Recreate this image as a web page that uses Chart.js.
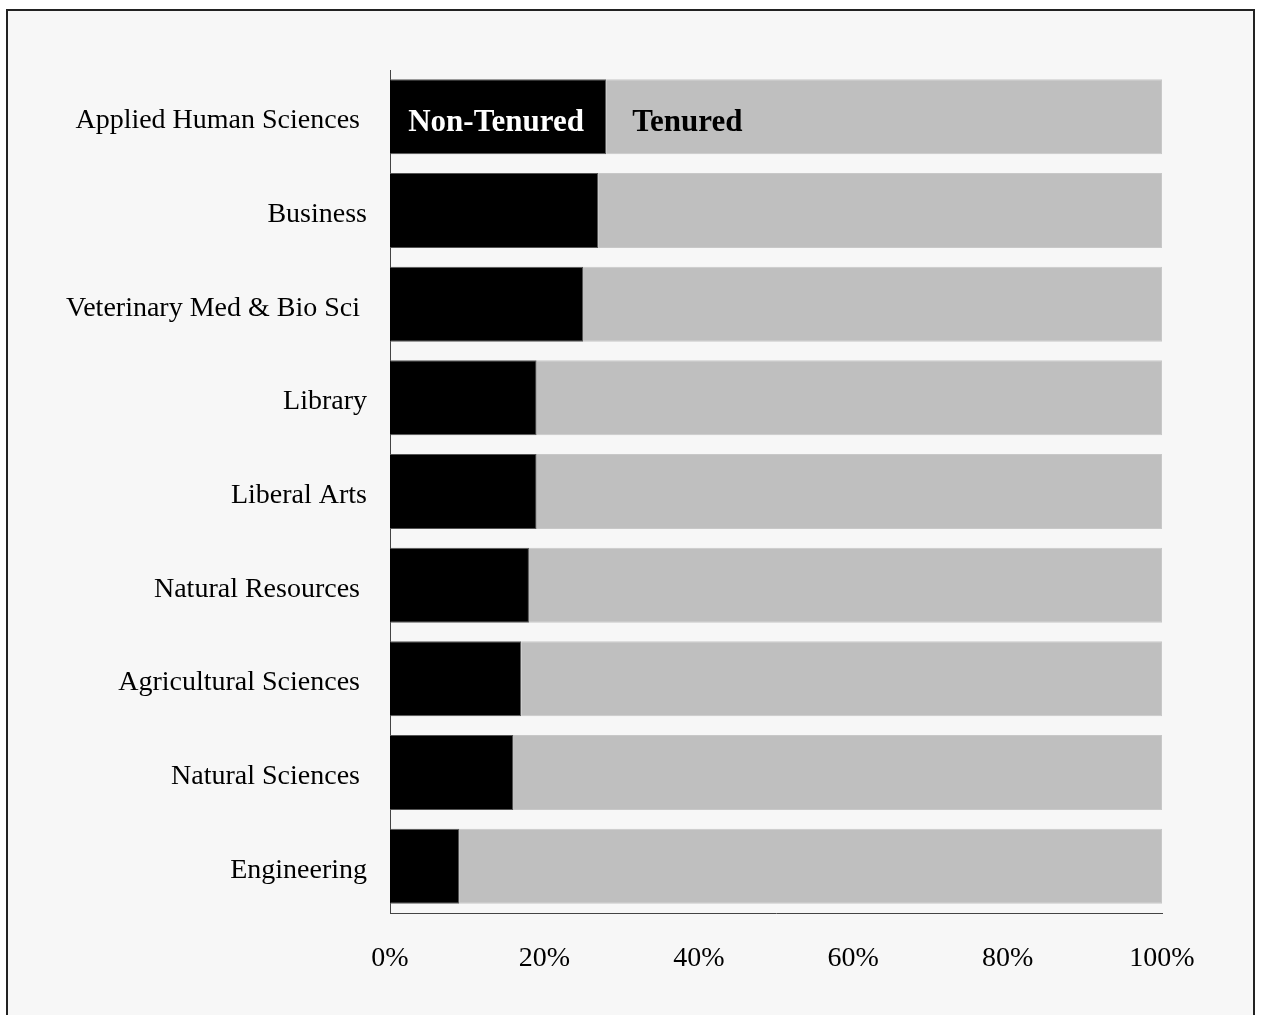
<!DOCTYPE html>
<html>
<head>
<meta charset="utf-8">
<script src="https://cdn.jsdelivr.net/npm/chart.js@4/dist/chart.umd.min.js"></script>
<style>
  html, body { margin: 0; padding: 0; background: #ffffff; }
  #frame {
    position: absolute; left: 6px; top: 9px; width: 1245px; height: 1030px;
    background: #f7f7f7; border: 2px solid #222;
  }
  #wrap { position: absolute; left: 0; top: 0; width: 1261px; height: 1015px; }
</style>
</head>
<body>
<div id="frame"></div>
<div id="wrap"><canvas id="chart_root"></canvas></div>
<script>
// Data (share of faculty, %)
const colleges = [
  'Applied Human Sciences ',
  'Business',
  'Veterinary Med & Bio Sci ',
  'Library',
  'Liberal Arts',
  'Natural Resources ',
  'Agricultural Sciences ',
  'Natural Sciences ',
  'Engineering'
];
const nonTenured = [28, 27, 25, 19, 19, 18, 17, 16, 9];
const tenured = nonTenured.map((v) => 100 - v);
const tickValues = [0, 20, 40, 60, 80, 100];

// labels written inside the first bar
const barLabels = {
  id: 'barLabels',
  afterDatasetsDraw(chart) {
    const ctx = chart.ctx;
    const black = chart.getDatasetMeta(0).data[0];
    ctx.save();
    ctx.font = 'bold 31px "Liberation Serif", "Times New Roman", serif';
    ctx.textBaseline = 'middle';
    ctx.textAlign = 'center';
    ctx.fillStyle = '#ffffff';
    ctx.fillText('Non-Tenured', (black.base + black.x) / 2 - 2, black.y + 6);
    ctx.textAlign = 'left';
    ctx.fillStyle = '#000000';
    ctx.fillText('Tenured', black.x + 26, black.y + 6);
    ctx.restore();
  }
};

const ctx = document.getElementById('chart_root');

new Chart(ctx, {
  type: 'bar',
  data: {
    labels: colleges,
    datasets: [
      {
        label: 'Non-Tenured',
        data: nonTenured,
        backgroundColor: '#000000',
        borderColor: '#555555',
        borderWidth: 1,
        categoryPercentage: 0.8,
        barPercentage: 1
      },
      {
        label: 'Tenured',
        data: tenured,
        backgroundColor: '#bfbfbf',
        borderColor: '#c8c8c8',
        borderWidth: 1,
        categoryPercentage: 0.8,
        barPercentage: 1
      }
    ]
  },
  options: {
    indexAxis: 'y',
    responsive: true,
    maintainAspectRatio: false,
    animation: false,
    layout: { padding: { left: 0, right: 99, top: 70, bottom: 0 } },
    plugins: {
      legend: { display: false },
      tooltip: { enabled: false }
    },
    scales: {
      x: {
        stacked: true,
        min: 0,
        max: 100,
        afterBuildTicks: (scale) => {
          scale.ticks = tickValues.map((v) => ({ value: v }));
        },
        afterFit: (scale) => { scale.height = 102; },
        grid: { display: false, drawTicks: false },
        border: { display: true, color: '#444444', width: 1 },
        ticks: {
          padding: 29,
          color: '#000000',
          font: { family: '"Liberation Serif", "Times New Roman", serif', size: 28 },
          callback: (v) => v + '%'
        }
      },
      y: {
        stacked: true,
        afterFit: (scale) => { scale.width = 390; },
        grid: { display: false, drawTicks: false },
        border: { display: true, color: '#444444', width: 1 },
        ticks: {
          padding: 23,
          labelOffset: 4,
          color: '#000000',
          font: { family: '"Liberation Serif", "Times New Roman", serif', size: 28 }
        }
      }
    }
  },
  plugins: [barLabels]
});
</script>
</body>
</html>
